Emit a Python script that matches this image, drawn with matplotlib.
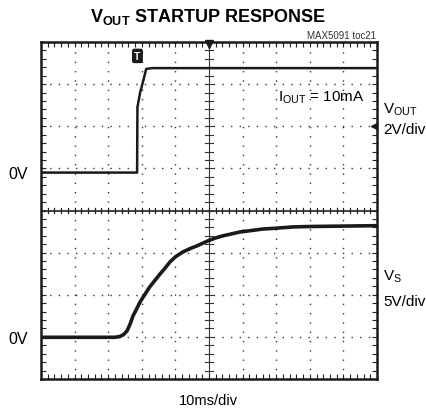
import numpy as np
import matplotlib
matplotlib.use('Agg')
import matplotlib.pyplot as plt

plt.rcParams['font.family'] = ['Liberation Sans', 'DejaVu Sans']
plt.rcParams['mathtext.fontset'] = 'custom'
plt.rcParams['mathtext.rm'] = 'Liberation Sans'
plt.rcParams['mathtext.it'] = 'Liberation Sans'
plt.rcParams['mathtext.bf'] = 'Liberation Sans:bold'

# traces, in scope divisions (x: 0..10, y: 0..8)
vout_t = [0.0, 2.86, 2.87, 2.95, 3.05, 3.13, 3.3, 10.0]
vout_v = [4.9, 4.9, 6.45, 6.8, 7.1, 7.36, 7.38, 7.38]

vs_t = [0.0, 2.2, 2.35, 2.45, 2.56, 2.65, 2.74, 2.85, 2.95, 3.1, 3.24, 3.4, 3.54, 3.7, 3.84,
        4.0, 4.23, 4.45, 4.64, 4.97, 5.2, 5.42, 5.92, 6.22, 6.6, 7.0, 7.5, 8.0, 9.0, 10.0]
vs_v = [0.99, 0.99, 1.01, 1.05, 1.14, 1.3, 1.5, 1.67, 1.83, 2.02, 2.19, 2.35, 2.49, 2.64, 2.78,
        2.9, 3.02, 3.1, 3.16, 3.28, 3.35, 3.4, 3.49, 3.52, 3.56, 3.58, 3.61, 3.62, 3.63, 3.64]

fig = plt.figure(figsize=(4.26, 4.14), dpi=100)
ax = fig.add_axes([41/426, 1-380/414, 336/426, 337/414])
ax.set_xlim(0, 10)
ax.set_ylim(0, 8)

# dotted grid
for x in range(1, 10):
    if x != 5:
        ax.axvline(x, color='#333333', lw=1.0, ls=(0, (1, 5.7)), zorder=1)
for y in range(1, 8):
    if y != 4:
        ax.axhline(y, color='#333333', lw=1.0, ls=(0, (1, 5.2)), zorder=1)

# center cross with ticks
ax.axvline(5, color='#333333', lw=0.8, zorder=1)
ax.axhline(4, color='#222222', lw=1.2, zorder=1)
for t in np.arange(0.2, 10, 0.2):
    ax.plot([t, t], [3.93, 4.07], color='#222222', lw=0.9, zorder=1)
for t in np.arange(0.2, 8, 0.2):
    ax.plot([4.88, 5.12], [t, t], color='#333333', lw=0.8, zorder=1)

ax.set_xticks(np.arange(0, 10.01, 0.2))
ax.set_yticks(np.arange(0, 8.01, 0.2))
ax.tick_params(direction='in', length=3.5, width=0.8, top=True, right=True,
               labelbottom=False, labelleft=False, color='#222222')
for s in ax.spines.values():
    s.set_linewidth(1.8)
    s.set_color('#1a1a1a')

ax.plot(vout_t, vout_v, color='#1a1a1a', lw=1.8, zorder=3)
ax.plot(vs_t, vs_v, color='#1a1a1a', lw=2.6, zorder=3, solid_joinstyle='round')

# markers
ax.plot(5, 7.95, marker='v', color='#1a1a1a', ms=6, clip_on=False, zorder=4)
ax.plot(9.9, 6.0, marker='<', color='#1a1a1a', ms=5, clip_on=False, zorder=4)
ax.text(2.87, 7.67, 'T', ha='center', va='center', fontsize=7.5, fontweight='bold', color='white',
        bbox=dict(boxstyle='round,pad=0.15', fc='#1a1a1a', ec='#1a1a1a'), zorder=4)

fig.text(208/426, 1-17/414, r'$\mathbf{V_{OUT}}$ STARTUP RESPONSE', ha='center', va='center',
         fontsize=13, fontweight='bold')
fig.text(376/426, 1-36/414, 'MAX5091 toc21', ha='right', va='center', fontsize=7, color='#333333')
ax.text(8.33, 6.7, r'I$_{\mathrm{OUT}}$ = 10mA', ha='center', va='center', fontsize=11)
fig.text(383/426, 1-110/414, r'V$_{\mathrm{OUT}}$', ha='left', va='center', fontsize=11)
fig.text(383/426, 1-130/414, '2V/div', ha='left', va='center', fontsize=11)
fig.text(383/426, 1-277/414, r'V$_{\mathrm{S}}$', ha='left', va='center', fontsize=11)
fig.text(383/426, 1-302/414, '5V/div', ha='left', va='center', fontsize=11)
fig.text(8/426, 1-175/414, '0V', ha='left', va='center', fontsize=11.5)
fig.text(8/426, 1-340/414, '0V', ha='left', va='center', fontsize=11.5)
fig.text(208/426, 1-401/414, '10ms/div', ha='center', va='center', fontsize=10.5)

fig.savefig('out.png', dpi=100)
